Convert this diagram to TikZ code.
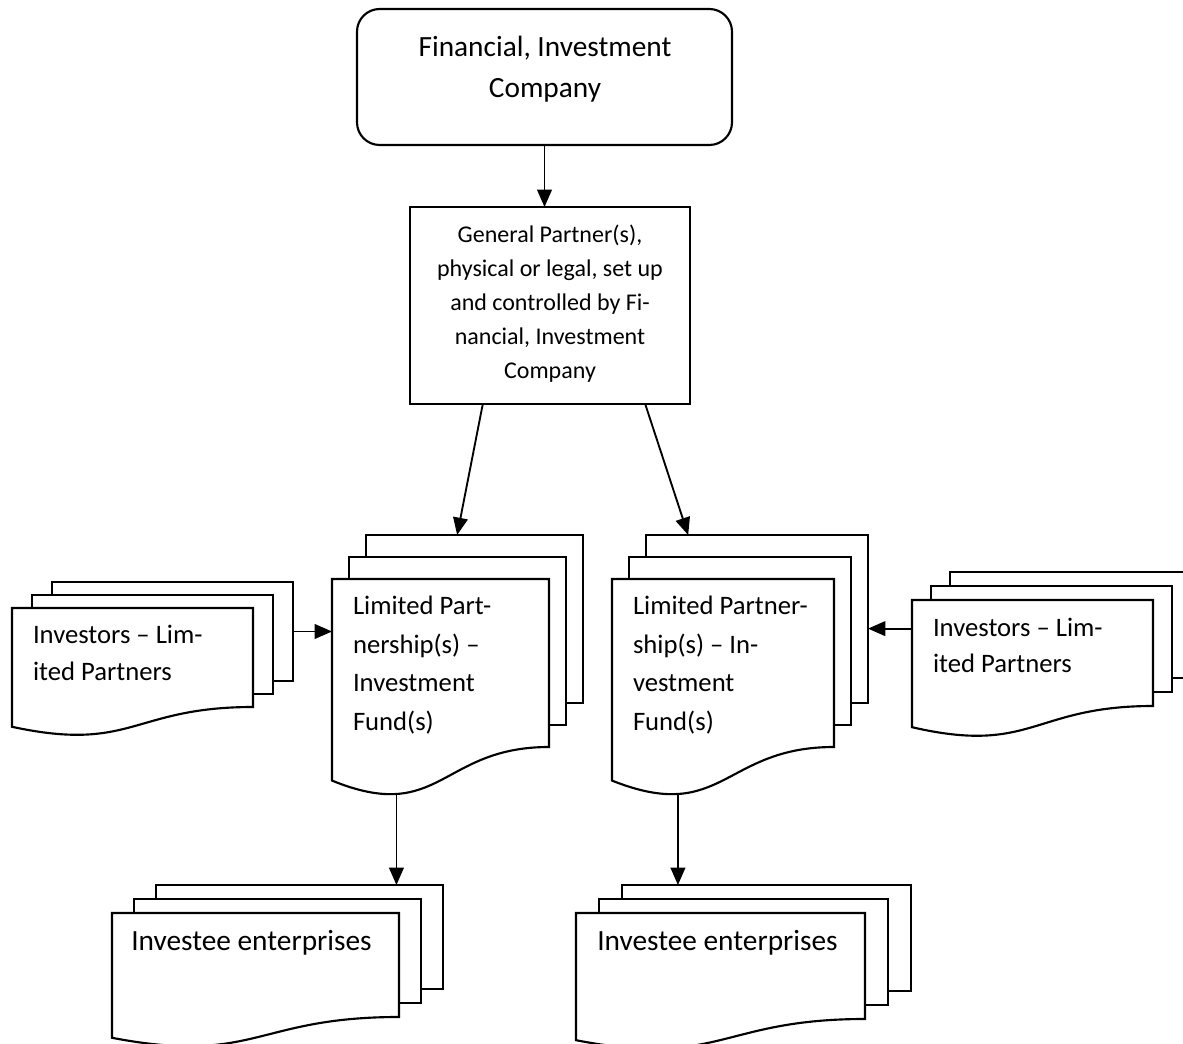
\documentclass[tikz,border=0pt]{standalone}
\usepackage{fontspec}
\setmainfont{Carlito}
\usetikzlibrary{arrows.meta,calc}

% one drawing unit = one pixel of the layout grid
\def\pxu{0.75pt}

\tikzset{
  frame/.style={draw=black, line width=1.6pt, fill=white, inner sep=0pt, outer sep=0pt, anchor=north west},
  sheet/.style={frame},
  sheet line/.style={draw=black, line width=1.6pt, fill=white},
  link/.style={draw=black, line width=1.4pt, -{Triangle[length=13pt,width=11pt]}},
  txt/.style={inner sep=0pt, outer sep=0pt, execute at begin node=\strut},
}

% a stack of three sheets, the front one with a wavy lower edge
% #1 name, (#2,#3) top left corner of the front sheet, #4 width, #5 height of the straight sides,
% #6/#7 horizontal / vertical shift of each sheet lying behind
\newcommand\docstack[7]{%
  \node[sheet, minimum width=#4*\pxu, minimum height=#5*\pxu] (#1-back) at (#2+2*#6, #3-2*#7) {};
  \node[sheet, minimum width=#4*\pxu, minimum height=#5*\pxu] (#1-mid) at (#2+#6, #3-#7) {};
  \node[sheet, draw=none, fill=none, minimum width=#4*\pxu, minimum height=#5*\pxu] (#1) at (#2,#3) {};
  \draw[sheet line] (#1.south east) -- (#1.north east) -- (#1.north west)
    -- ($(#1.south west)+(0,0.2*#5)$)
    .. controls ($(#1.south)+(0,0.463*#5)$) and (#1.south) .. (#1.south east) -- cycle;
  \coordinate (#1-foot) at ($(#1.south west)+(0.297*#4,0.28*#5)$);
}

\begin{document}
\begin{tikzpicture}[x=0.75pt, y=-0.75pt]
  \useasboundingbox (0,0) rectangle (1183,1044);
  \fill[white] (0,0) rectangle (1183,1044);
  \clip (0,0) rectangle (1183,1044);

  % parent company and general partner
  \node[frame, rounded corners=17pt, minimum width=375*\pxu, minimum height=136*\pxu] (fic) at (357,9) {};
  \node[txt, font=\fontsize{22}{30.75}\selectfont, align=center, anchor=north] (fic-text) at (545,35.8)
    {Financial, Investment\\Company};

  \node[frame, minimum width=280*\pxu, minimum height=197*\pxu] (gp) at (410,207) {};
  \node[txt, font=\fontsize{18}{25.5}\selectfont, align=center, anchor=north] (gp-text) at (550,224.9)
    {General Partner(s),\\physical or legal, set up\\and controlled by Fi-\\nancial, Investment\\Company};

  % limited partnerships
  \docstack{lpL}{332}{579}{217}{168}{17}{22}
  \node[txt, font=\fontsize{20}{29}\selectfont, align=left, anchor=north west] (lpL-text) at (353,595.9)
    {Limited Part-\\nership(s) –\\Investment\\Fund(s)};

  \docstack{lpR}{612}{579}{222}{168}{17}{22}
  \node[txt, font=\fontsize{20}{29}\selectfont, align=left, anchor=north west] (lpR-text) at (633,595.9)
    {Limited Partner-\\ship(s) – In-\\vestment\\Fund(s)};

  % investors
  \docstack{invL}{12}{608}{241}{99}{20}{13}
  \node[txt, font=\fontsize{20}{28}\selectfont, align=left, anchor=north west] (invL-text) at (33,625.3)
    {Investors – Lim-\\ited Partners};

  \docstack{invR}{912}{600}{241}{106}{19}{14}
  \node[txt, font=\fontsize{20}{27.5}\selectfont, align=left, anchor=north west] (invR-text) at (933,617.8)
    {Investors – Lim-\\ited Partners};

  % investee enterprises
  \docstack{eeL}{112}{913}{287}{104}{22}{14}
  \node[inner sep=0pt, font=\fontsize{22}{30}\selectfont, anchor=base west] (eeL-text) at (131,951)
    {Investee enterprises};

  \docstack{eeR}{576}{913}{289}{106}{23}{14}
  \node[inner sep=0pt, font=\fontsize{22}{30}\selectfont, anchor=base west] (eeR-text) at (597,951)
    {Investee enterprises};

  % connectors
  \draw[link] (fic.south) -- (fic.south |- gp.north);
  \draw[link] ($(gp.south west)!0.26!(gp.south east)$) -- ($(lpL-back.north west)!0.42!(lpL-back.north east)$);
  \draw[link] ($(gp.south west)!0.84!(gp.south east)$) -- ($(lpR-back.north west)!0.19!(lpR-back.north east)$);

  \draw[link] (invL-back.east) -- (invL-back.east -| lpL.west);
  \coordinate (invR-in) at ($(invR.north west)!0.27!(invR.south west)$);
  \draw[link] (invR-in) -- (invR-in -| lpR-back.east);

  \draw[link] (lpL-foot) -- (lpL-foot |- eeL-back.north);
  \draw[link] (lpR-foot) -- (lpR-foot |- eeR-back.north);
\end{tikzpicture}
\end{document}
